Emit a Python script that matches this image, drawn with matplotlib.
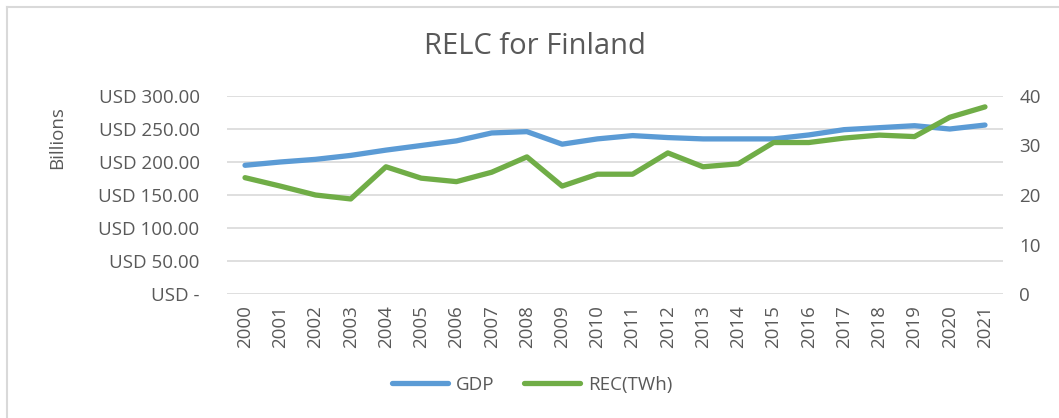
import matplotlib
matplotlib.use("Agg")
import matplotlib.pyplot as plt
from matplotlib.lines import Line2D

plt.rcParams["font.family"] = ["Open Sans", "DejaVu Sans"]

years = [str(y) for y in range(2000, 2022)]
gdp = [195, 200, 204, 210, 218, 225, 232, 244, 246, 227, 235, 240,
       237, 235, 235, 235, 241, 249, 252, 255, 250, 256]
rec = [23.5, 21.8, 20.0, 19.2, 25.7, 23.4, 22.7, 24.6, 27.7, 21.8, 24.2, 24.2,
       28.5, 25.7, 26.3, 30.6, 30.6, 31.5, 32.1, 31.8, 35.7, 37.8]
left_ticks = [0, 50, 100, 150, 200, 250, 300]
left_labels = ["USD -", "USD 50.00", "USD 100.00", "USD 150.00",
               "USD 200.00", "USD 250.00", "USD 300.00"]
right_ticks = [0, 10, 20, 30, 40]

BLUE = "#5B9BD5"
GREEN = "#70AD47"
GREY = "#595959"
GRID = "#D9D9D9"

W, H = 1059, 418
fig = plt.figure(figsize=(W / 100, H / 100), dpi=100)
ax = fig.add_axes([227.4 / W, 1 - 294 / H, (1002.6 - 227.4) / W, (294 - 96) / H])
ax2 = ax.twinx()

x = list(range(len(years)))
ax.plot(x, gdp, color=BLUE, lw=3.8, solid_capstyle="round", zorder=3)
ax2.plot(x, rec, color=GREEN, lw=3.8, solid_capstyle="round", zorder=3)

ax.set_xlim(-0.5, len(years) - 0.5)
ax.set_ylim(0, 300)
ax2.set_ylim(0, 40)

ax.set_yticks(left_ticks)
ax.set_yticklabels(left_labels)
ax2.set_yticks(right_ticks)
ax.set_xticks(x)
ax.set_xticklabels(years, rotation=90)

ax.grid(axis="y", color=GRID, lw=1.2)
ax.set_axisbelow(True)
for a in (ax, ax2):
    for s in a.spines.values():
        s.set_visible(False)
    a.tick_params(length=0, colors=GREY, labelsize=13.5)
ax.tick_params(axis="y", pad=20)
ax.tick_params(axis="x", pad=8)
ax2.tick_params(axis="y", pad=12)

ax.set_ylabel("Billions", color=GREY, fontsize=13.5)
ax.yaxis.set_label_coords(-0.208, 0.79)

fig.text(535 / W, 1 - 46 / H, "RELC for Finland", ha="center", va="center",
         fontsize=21, color=GREY)

handles = [Line2D([], [], color=BLUE, lw=3.8, solid_capstyle="round"),
           Line2D([], [], color=GREEN, lw=3.8, solid_capstyle="round")]
fig.legend(handles, ["GDP", "REC(TWh)"], loc="center", bbox_to_anchor=(532 / W, 1 - 385 / H),
           ncol=2, frameon=False, fontsize=13.5, labelcolor=GREY,
           handlelength=3.0, columnspacing=1.6, handletextpad=0.4)

# light chart border (top and left visible)
fig.add_artist(Line2D([7 / W, 7 / W], [0, 1 - 7 / H], color="#D9D9D9", lw=1.5))
fig.add_artist(Line2D([7 / W, 1], [1 - 7 / H, 1 - 7 / H], color="#D9D9D9", lw=1.5))

fig.savefig("out.png", dpi=100)
